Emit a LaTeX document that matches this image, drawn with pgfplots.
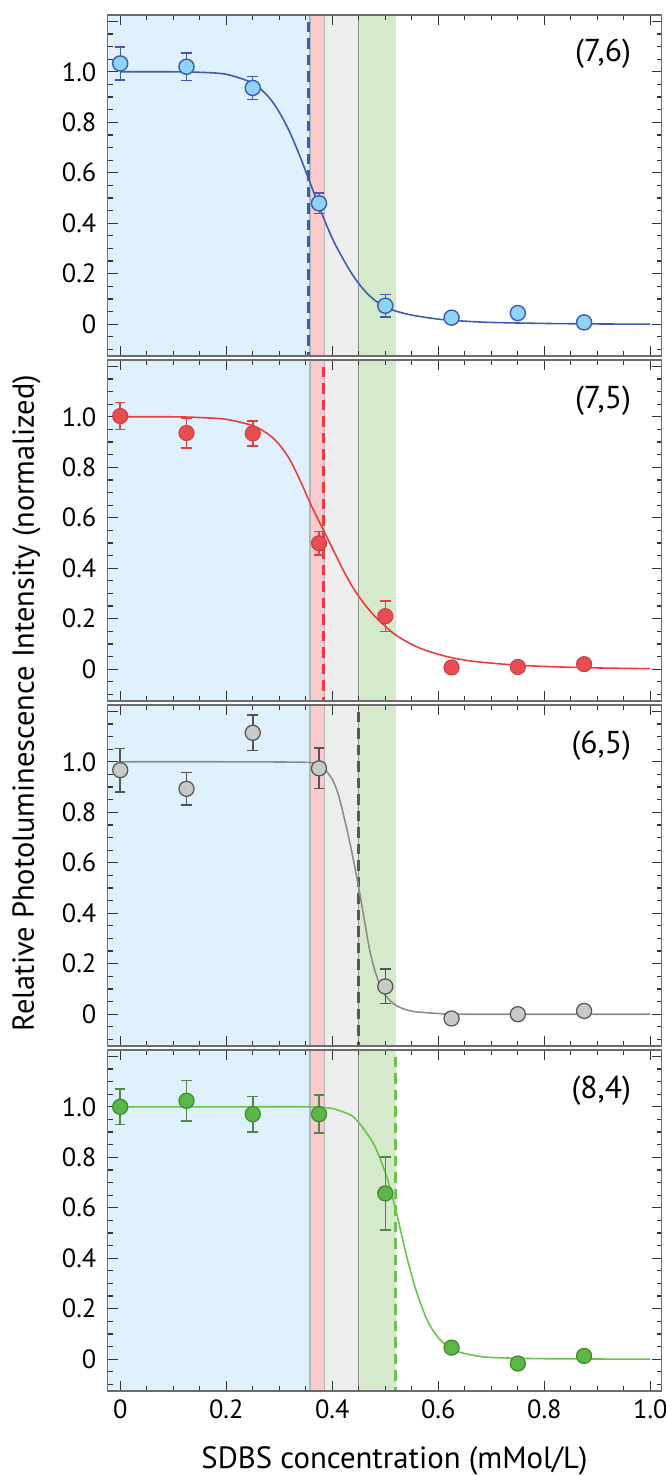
\documentclass[border=0pt]{standalone}
\usepackage{fontspec}
\setmainfont{PT Sans}
\usepackage{pgfplots}
\pgfplotsset{compat=1.18}

\definecolor{bandblue}{HTML}{DFF1FC}
\definecolor{bandpink}{HTML}{F9CBCE}
\definecolor{bandgray}{HTML}{EEEEEE}
\definecolor{bandgreen}{HTML}{D5EACB}
\definecolor{bandedge}{HTML}{B5B5B5}
\definecolor{cblue}{HTML}{3E5BAF}
\definecolor{fblue}{HTML}{8ED4F5}
\definecolor{cred}{HTML}{EE3A3A}
\definecolor{fred}{HTML}{E84D51}
\definecolor{cgray}{HTML}{8C8C8C}
\definecolor{fgray}{HTML}{C9C9C9}
\definecolor{dgray}{HTML}{555555}
\definecolor{cgreen}{HTML}{6CC24A}
\definecolor{fgreen}{HTML}{5DB746}
\definecolor{dgreen}{HTML}{3D8B2C}

\pgfplotsset{
  panel/.style={
    scale only axis, width=11.08cm, height=6.82cm,
    xmin=-0.024, xmax=1.021, ymin=-0.126, ymax=1.225,
    axis on top,
    axis line style={draw=gray!85!black, line width=1.1pt},
    tick align=inside,
    major tick length=0.2cm, minor tick length=0.1cm,
    tick style={black!80, line width=0.7pt},
    xtick={-0.2,0,0.2,0.4,0.6,0.8,1.0,1.2},
    ytick={-0.2,0,0.2,0.4,0.6,0.8,1.0,1.2},
    yticklabels={,0,0.2,0.4,0.6,0.8,1.0,},
    xticklabels={},
    minor x tick num=3, minor y tick num=3,
    /pgf/number format/assume math mode=true,
    ticklabel style={font=\fontsize{15}{17}\selectfont},
    yticklabel style={xshift=-0.1cm},
    xticklabel style={yshift=-0.06cm},
  },
  vdash/.style={line width=1.7pt, dash pattern=on 0.21cm off 0.12cm},
}

% shaded concentration ranges, drawn in every panel
\newcommand{\bands}{%
  \addplot[fill=bandblue, draw=none] coordinates {(-0.1,-1)(0.358,-1)(0.358,2)(-0.1,2)} \closedcycle;
  \addplot[fill=bandpink, draw=none] coordinates {(0.358,-1)(0.385,-1)(0.385,2)(0.358,2)} \closedcycle;
  \addplot[fill=bandgray, draw=none] coordinates {(0.385,-1)(0.449,-1)(0.449,2)(0.385,2)} \closedcycle;
  \addplot[fill=bandgreen, draw=none] coordinates {(0.449,-1)(0.52,-1)(0.52,2)(0.449,2)} \closedcycle;
  \addplot[bandedge, line width=0.6pt] coordinates {(0.358,-1)(0.358,2)};
  \addplot[bandedge, line width=0.6pt] coordinates {(0.385,-1)(0.385,2)};
  \addplot[bandedge!80!black, line width=0.8pt] coordinates {(0.449,-1)(0.449,2)};
}

\begin{document}
\begin{tikzpicture}
\path[use as bounding box] (-2.15cm,0.3cm) rectangle (11.15cm,-29.22cm);

% ---------------- (7,6)
\begin{axis}[panel, at={(0,0)}, anchor=north west]
\bands
\addplot[cblue, vdash] coordinates {(0.355,-1)(0.355,2)};
\addplot[cblue, line width=0.9pt, smooth] coordinates {
(0,1.0)(0.1,1.0)(0.15,0.998)(0.2,0.99)(0.25,0.955)(0.28,0.90)(0.30,0.84)(0.32,0.76)
(0.34,0.66)(0.36,0.55)(0.38,0.44)(0.40,0.34)(0.42,0.26)(0.44,0.19)(0.46,0.135)
(0.48,0.095)(0.50,0.07)(0.52,0.052)(0.55,0.036)(0.60,0.02)(0.65,0.012)(0.70,0.007)
(0.80,0.003)(0.90,0.001)(1.0,0.0)};
\addplot[only marks, mark=*, mark size=4.3pt, mark options={fill=fblue, draw=cblue, line width=0.8pt},
  draw=cblue, line width=0.9pt,
  error bars/.cd, y dir=both, y explicit, error mark options={rotate=90, mark size=3pt, cblue, line width=0.9pt}]
  coordinates {(0,1.033)+-(0,0.065)(0.125,1.02)+-(0,0.055)(0.25,0.936)+-(0,0.045)
  (0.375,0.479)+-(0,0.04)(0.5,0.073)+-(0,0.044)};
\addplot[only marks, mark=*, mark size=4.3pt, mark options={fill=fblue, draw=cblue, line width=0.8pt}]
  coordinates {(0.625,0.026)(0.75,0.044)(0.875,0.007)};
\node[anchor=east, font=\fontsize{18}{20}\selectfont] at (axis cs:0.975,1.07) {(7,6)};
\end{axis}

% ---------------- (7,5)
\begin{axis}[panel, at={(0,-6.9cm)}, anchor=north west]
\bands
\addplot[cred, vdash] coordinates {(0.383,-1)(0.383,2)};
\addplot[cred, line width=0.9pt, smooth] coordinates {
(0,1.0)(0.1,1.0)(0.15,0.997)(0.2,0.99)(0.25,0.965)(0.28,0.93)(0.30,0.89)(0.32,0.83)
(0.34,0.745)(0.36,0.65)(0.38,0.565)(0.40,0.48)(0.42,0.395)(0.44,0.32)(0.46,0.26)
(0.48,0.21)(0.50,0.17)(0.52,0.135)(0.55,0.098)(0.58,0.072)(0.62,0.048)(0.66,0.033)
(0.70,0.024)(0.75,0.016)(0.80,0.011)(0.90,0.005)(1.0,0.002)};
\addplot[only marks, mark=*, mark size=4.3pt, mark options={fill=fred, draw=fred!85!black, line width=0.6pt},
  error bars/.cd, y dir=both, y explicit, error mark options={rotate=90, mark size=3pt, cred, line width=0.9pt},
  error bar style={cred, line width=0.9pt}]
  coordinates {(0,1.003)+-(0,0.053)(0.125,0.936)+-(0,0.06)(0.25,0.934)+-(0,0.05)
  (0.375,0.499)+-(0,0.047)(0.5,0.21)+-(0,0.06)};
\addplot[only marks, mark=*, mark size=4.3pt, mark options={fill=fred, draw=fred!85!black, line width=0.6pt}]
  coordinates {(0.625,0.007)(0.75,0.009)(0.875,0.02)};
\node[anchor=east, font=\fontsize{18}{20}\selectfont] at (axis cs:0.975,1.065) {(7,5)};
\end{axis}

% ---------------- (6,5)
\begin{axis}[panel, at={(0,-13.8cm)}, anchor=north west]
\bands
\addplot[gray!70!black, vdash] coordinates {(0.449,-1)(0.449,2)};
\addplot[cgray, line width=0.9pt, smooth] coordinates {
(0,1.0)(0.2,1.0)(0.35,0.998)(0.37,0.99)(0.38,0.98)(0.39,0.96)(0.40,0.93)(0.41,0.88)
(0.42,0.80)(0.43,0.71)(0.44,0.61)(0.45,0.50)(0.46,0.38)(0.47,0.26)(0.48,0.175)
(0.49,0.115)(0.50,0.075)(0.52,0.035)(0.55,0.012)(0.60,0.003)(0.65,0.0)(1.0,0.0)};
\addplot[only marks, mark=*, mark size=4.3pt, mark options={fill=fgray, draw=dgray, line width=0.7pt},
  error bars/.cd, y dir=both, y explicit, error mark options={rotate=90, mark size=3pt, dgray, line width=0.9pt},
  error bar style={dgray, line width=0.9pt}]
  coordinates {(0,0.967)+-(0,0.086)(0.125,0.893)+-(0,0.065)(0.25,1.115)+-(0,0.07)
  (0.375,0.974)+-(0,0.08)(0.5,0.11)+-(0,0.068)};
\addplot[only marks, mark=*, mark size=4.3pt, mark options={fill=fgray, draw=dgray, line width=0.7pt}]
  coordinates {(0.625,-0.017)(0.75,0.0)(0.875,0.013)};
\node[anchor=east, font=\fontsize{18}{20}\selectfont] at (axis cs:0.975,1.065) {(6,5)};
\end{axis}

% ---------------- (8,4)
\begin{axis}[panel, at={(0,-20.7cm)}, anchor=north west,
  xticklabels={,0,0.2,0.4,0.6,0.8,1.0,},
  xlabel={SDBS concentration (mMol/L)},
  xlabel style={font=\fontsize{17.5}{19}\selectfont, yshift=-0.3cm, xshift=0.2cm}]
\bands
\addplot[cgreen, vdash] coordinates {(0.52,-1)(0.52,2)};
\addplot[cgreen, line width=0.9pt, smooth] coordinates {
(0,1.0)(0.2,1.0)(0.35,1.0)(0.38,0.998)(0.40,0.993)(0.42,0.98)(0.44,0.96)(0.46,0.91)
(0.48,0.845)(0.50,0.74)(0.51,0.67)(0.52,0.59)(0.53,0.50)(0.54,0.41)(0.55,0.33)
(0.56,0.26)(0.58,0.15)(0.60,0.085)(0.62,0.048)(0.64,0.028)(0.67,0.014)(0.70,0.007)
(0.80,0.002)(1.0,0.0)};
\addplot[only marks, mark=*, mark size=4.3pt, mark options={fill=fgreen, draw=dgreen, line width=0.7pt},
  error bars/.cd, y dir=both, y explicit, error mark options={rotate=90, mark size=3pt, dgreen!70!gray, line width=0.9pt},
  error bar style={dgreen!70!gray, line width=0.9pt}]
  coordinates {(0,1.0)+-(0,0.07)(0.125,1.024)+-(0,0.08)(0.25,0.971)+-(0,0.07)
  (0.375,0.971)+-(0,0.075)(0.5,0.657)+-(0,0.145)};
\addplot[only marks, mark=*, mark size=4.3pt, mark options={fill=fgreen, draw=dgreen, line width=0.7pt}]
  coordinates {(0.625,0.046)(0.75,-0.017)(0.875,0.013)};
\node[anchor=east, font=\fontsize{18}{20}\selectfont] at (axis cs:0.975,1.065) {(8,4)};
\end{axis}

\node[rotate=90, font=\fontsize{17.3}{19}\selectfont] at (-1.62cm,-13.76cm)
  {Relative Photoluminescence Intensity (normalized)};
\end{tikzpicture}
\end{document}
